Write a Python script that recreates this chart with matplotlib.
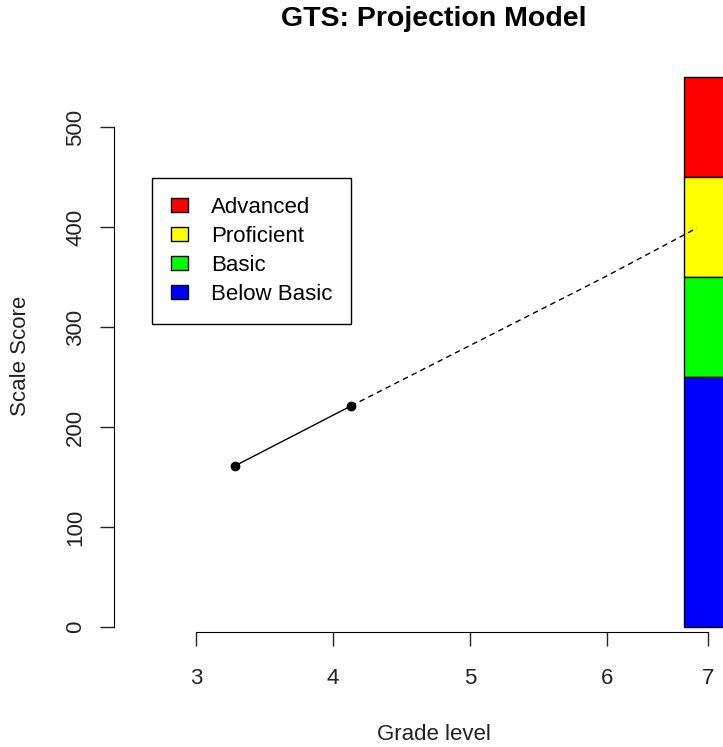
import matplotlib.pyplot as plt
from matplotlib.patches import Patch

plt.rcParams['font.family'] = ['Liberation Sans', 'DejaVu Sans']

# observed scores and projection
grades = [3.28, 4.13]
scores = [161, 221]
proj_grades = [4.13, 6.0, 6.66]
proj_scores = [221, 351, 399]

# performance level bands on the right
levels = ['Advanced', 'Proficient', 'Basic', 'Below Basic']
level_colors = ['#ff0000', '#ffff00', '#00ff00', '#0000ff']
level_bottom = [450, 350, 250, 0]
level_height = [100, 100, 100, 250]
band_grade = 6.74
band_width = 0.35

grade_ticks = [3, 4, 5, 6, 6.74]
grade_labels = ['3', '4', '5', '6', '7']
score_ticks = [0, 100, 200, 300, 400, 500]

W, H = 723, 747
fig = plt.figure(figsize=(W / 100, H / 100), dpi=100)


def box(x0, y0, x1, y1):
    return [x0 / W, 1 - y1 / H, (x1 - x0) / W, (y1 - y0) / H]


ax = fig.add_axes(box(114, 60, 752, 632))
ax.set_xlim(2.398, 7.062)
ax.set_ylim(-5, 567)

ax.bar([band_grade] * 4, level_height, bottom=level_bottom, width=band_width,
       color=level_colors, edgecolor='black', linewidth=1, clip_on=False)

ax.plot(proj_grades, proj_scores, color='black', lw=1, ls=(0, (4, 3)))
ax.plot(grades, scores, color='black', lw=1, marker='o', markersize=6)

for s in ['top', 'right']:
    ax.spines[s].set_visible(False)
ax.spines['left'].set_bounds(0, 500)
ax.spines['bottom'].set_bounds(3, 6.74)
ax.set_xticks(grade_ticks, grade_labels)
ax.set_yticks(score_ticks, [str(v) for v in score_ticks])
ax.tick_params(direction='out', length=10, width=1, labelsize=16, colors='#222222')
ax.tick_params(axis='x', pad=16)
ax.tick_params(axis='y', pad=10)
for lab in ax.get_yticklabels():
    lab.set_rotation(90)
    lab.set_va('center')

handles = [Patch(facecolor=c, edgecolor='black', lw=1) for c in level_colors]
leg = ax.legend(handles, levels, loc='upper left', bbox_to_anchor=(152 / W, 1 - 178 / H),
                bbox_transform=fig.transFigure, borderaxespad=0, fontsize=16,
                fancybox=False, edgecolor='black', framealpha=1,
                handlelength=0.75, handleheight=0.6, handletextpad=1.05,
                labelspacing=0.36, borderpad=0.85)
leg.get_frame().set_linewidth(1)

fig.text(434 / W, 1 - 19 / H, 'GTS: Projection Model', ha='center', va='center',
         fontsize=20.5, fontweight='bold')
fig.text(434 / W, 1 - 735 / H, 'Grade level', ha='center', va='center',
         fontsize=16, color='#222222')
fig.text(21 / W, 1 - 356 / H, 'Scale Score', ha='center', va='center',
         rotation=90, fontsize=16, color='#222222')

fig.savefig('out.png', dpi=100)
